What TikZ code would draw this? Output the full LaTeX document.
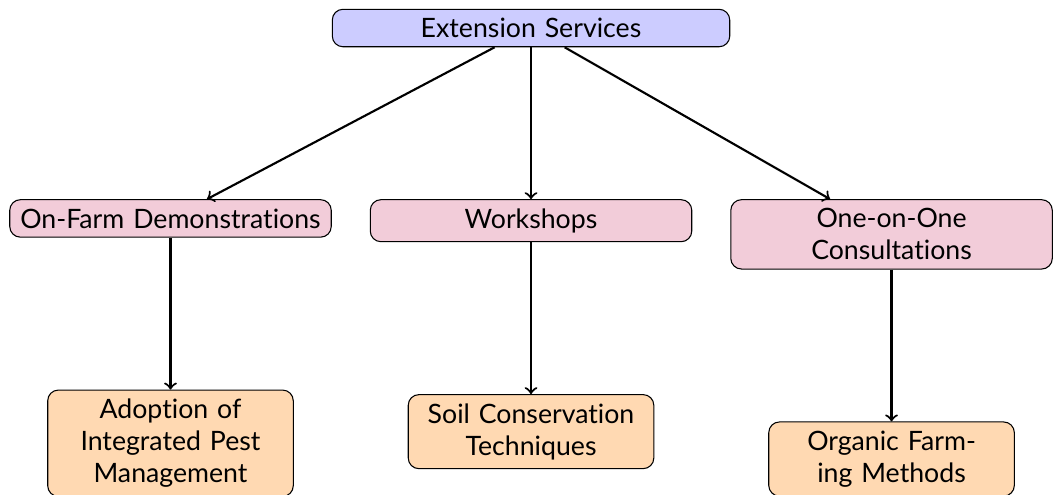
\documentclass[tikz,border=0pt]{standalone}
\usepackage{fontspec}
\setmainfont{Lato}[Ligatures=NoCommon]
\usetikzlibrary{positioning}

\begin{document}
\begin{tikzpicture}[
  box/.style={draw, rectangle, rounded corners, align=center},
  root/.style={box, fill=blue!20, text width=5cm},
  channel/.style={box, fill=purple!20, text width=4cm},
  outcome/.style={box, fill=orange!30, text width=3cm},
  link/.style={->, thick}]
  \useasboundingbox (-199.0pt,-174.7pt) rectangle (195.6pt,10.5pt);

  \node[root] (ext) {Extension Services};

  \node[channel, below left=2cm and 0cm of ext] (demo) {On-Farm Demonstrations};
  \node[channel, below=2cm of ext] (work) {Workshops};
  \node[channel, below right=2cm and 0cm of ext] (consult) {One-on-One Consultations};

  \node[outcome, below=2cm of demo] (ipm) {Adoption of Integrated Pest Management};
  \node[outcome, below=2cm of work] (soil) {Soil Conservation Techniques};
  \node[outcome, below=2cm of consult] (organic) {Organic Farming Methods};

  \draw[link] (ext) -- (demo);
  \draw[link] (ext) -- (work);
  \draw[link] (ext) -- (consult);
  \draw[link] (demo) -- (ipm);
  \draw[link] (work) -- (soil);
  \draw[link] (consult) -- (organic);
\end{tikzpicture}
\end{document}
